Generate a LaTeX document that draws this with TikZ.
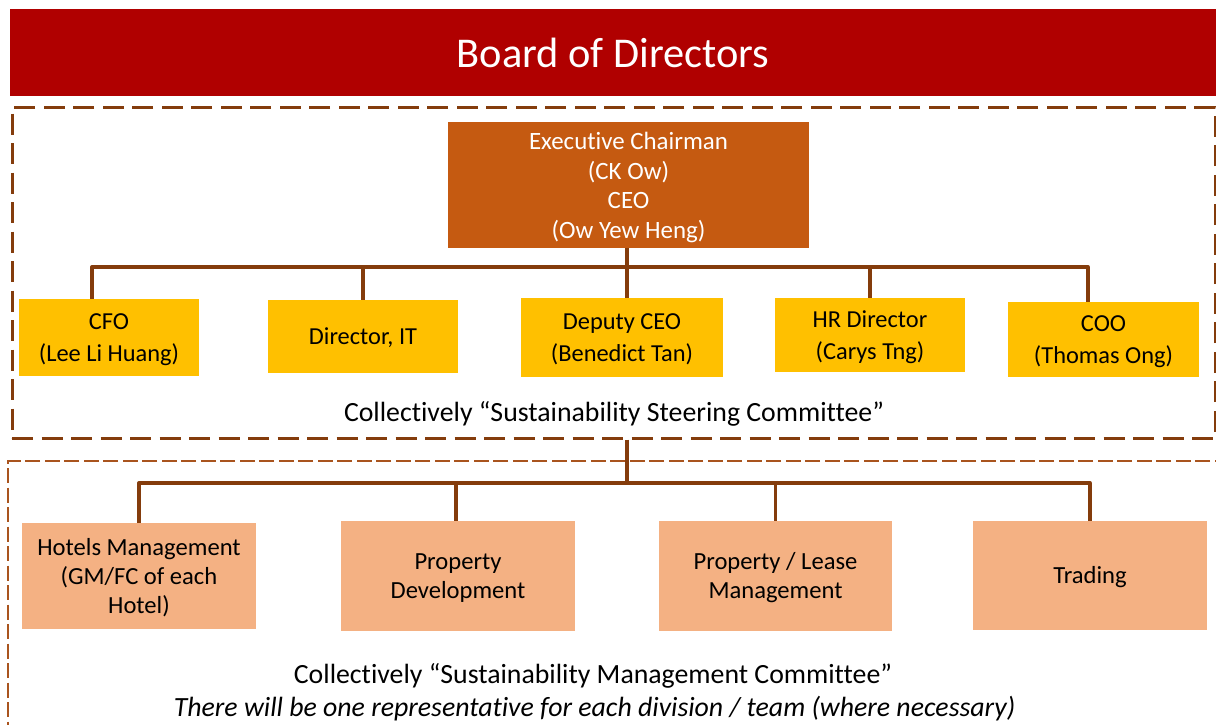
\documentclass[tikz,border=0pt]{standalone}
\usepackage{fontspec}
\setmainfont{Carlito}[Ligatures=NoCommon]
\definecolor{boardred}{HTML}{B00000}
\definecolor{execbrown}{HTML}{C55A11}
\definecolor{leadgold}{HTML}{FFC000}
\definecolor{divsalmon}{HTML}{F4B183}
\definecolor{linebrown}{HTML}{843C0C}
\definecolor{mgmtline}{HTML}{A9541E}
\begin{document}
\begin{tikzpicture}[x=1pt,y=-1pt,
  txt/.style={inner sep=0pt, align=center, font=\fontsize{24.4}{32}\selectfont},
  boardbox/.style={fill=boardred, text=white, inner sep=0pt,
    font=\fontsize{42.4}{50}\selectfont},
  execbox/.style={txt, fill=execbrown, text=white, font=\fontsize{24.9}{29.7}\selectfont},
  leadbox/.style={txt, fill=leadgold, text=black},
  divbox/.style={txt, fill=divsalmon, text=black, font=\fontsize{24.6}{29}\selectfont},
  steerframe/.style={draw=linebrown, line width=3pt, dash pattern=on 21pt off 8.5pt},
  mgmtframe/.style={draw=mgmtline, line width=1.8pt, dash pattern=on 15pt off 4.5pt},
  conn/.style={draw=linebrown, line width=3.3pt, line join=round},
  caption/.style={inner sep=0pt, anchor=base, font=\fontsize{27.8}{32}\selectfont}
]
\useasboundingbox (0,0) rectangle (1216,724);
\clip (0,0) rectangle (1216,724);

% committee frames
\node[steerframe, minimum width=1203pt, minimum height=331pt] (steer) at (613.5,272.5) {};
\node[mgmtframe, minimum width=1222pt, minimum height=279pt] (mgmt) at (619,600.5) {};

% board banner
\node[boardbox, minimum width=1206pt, minimum height=87pt] (board) at (613,52.5) {Board of Directors};

% executive level
\node[execbox, minimum width=361pt, minimum height=126pt] (exec) at (628.5,185) {};
\node[execbox, fill=none] (exectext) at (628.5,187.5)
  {Executive Chairman\\(CK Ow)\\CEO\\(Ow Yew Heng)};

% steering committee members
\node[leadbox, minimum width=180pt, minimum height=77pt] (cfo) at (109,337.5) {};
\node[leadbox, minimum width=190pt, minimum height=73pt] (dirit) at (363,336.5) {};
\node[leadbox, minimum width=202pt, minimum height=79pt] (dep) at (622,337.5) {};
\node[leadbox, minimum width=190pt, minimum height=74pt] (hr) at (870,335) {};
\node[leadbox, minimum width=191pt, minimum height=75pt] (coo) at (1103.5,339.5) {};
\node[txt] (cfotext) at (109,339.5) {CFO\\(Lee Li Huang)};
\node[txt] (dirittext) at (363,338) {Director, IT};
\node[txt] (deptext) at (622,339.5) {Deputy CEO\\(Benedict Tan)};
\node[txt] (hrtext) at (870,337) {HR Director\\(Carys Tng)};
\node[txt] (cootext) at (1103.5,341.5) {COO\\(Thomas Ong)};

\node[caption] (steerlabel) at (614,421) {Collectively “Sustainability Steering Committee”};

% divisions
\node[divbox, minimum width=234pt, minimum height=106pt] (hotels) at (139,576) {};
\node[divbox, minimum width=234pt, minimum height=110pt] (propdev) at (458,576) {};
\node[divbox, minimum width=233pt, minimum height=110pt] (lease) at (775.5,576) {};
\node[divbox, minimum width=234pt, minimum height=109pt] (trading) at (1090,575.5) {};
\node[divbox, fill=none] (hotelstext) at (139,578) {Hotels Management\\(GM/FC of each\\Hotel)};
\node[divbox, fill=none] (propdevtext) at (458,578) {Property\\Development};
\node[divbox, fill=none] (leasetext) at (775.5,578) {Property / Lease\\Management};
\node[divbox, fill=none] (tradingtext) at (1090,577) {Trading};

\node[caption] (mgmtlabel) at (593,683) {Collectively “Sustainability Management Committee”};
\node[caption, font=\fontsize{27.8}{32}\selectfont\itshape] (mgmtnote) at (594.5,716)
  {There will be one representative for each division / team (where necessary)};

% reporting lines, upper tier
\coordinate (busA) at (627,267);
\draw[conn] (exec.south -| busA) -- (busA);
\draw[conn] (busA) -| ([xshift=-17pt]cfo.north);
\draw[conn] (busA) -| (dirit.north);
\draw[conn] (busA) -- (busA |- dep.north);
\draw[conn] (busA) -| (hr.north);
\draw[conn] (busA) -| ([xshift=-15.5pt]coo.north);

% reporting lines, lower tier
\coordinate (busB) at (627,483);
\draw[conn] (steer.south -| busB) -- (busB);
\draw[conn] (busB) -| (hotels.north);
\draw[conn] (busB) -| ([xshift=-2pt]propdev.north);
\draw[conn] (busB) -| (lease.north);
\draw[conn] (busB) -| (trading.north);
\end{tikzpicture}
\end{document}
